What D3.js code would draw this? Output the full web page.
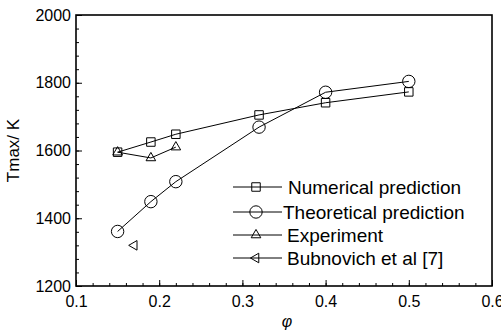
<!DOCTYPE html>
<html>
<head>
<meta charset="utf-8">
<title>Tmax vs phi</title>
<script src="https://d3js.org/d3.v7.min.js"></script>
<style>
  body { margin: 0; background: #fff; }
  text { font-family: "Liberation Sans", Arial, sans-serif; fill: #000; }
</style>
</head>
<body>
<script>
const width = 501, height = 331;
const marginLeft = 76, marginRight = 9, marginTop = 15, marginBottom = 45;

// data
const phiNum = [0.15, 0.19, 0.22, 0.32, 0.40, 0.50];
const tNum = [1595, 1625, 1648, 1705, 1741, 1773];
const phiTheo = [0.15, 0.19, 0.22, 0.32, 0.40, 0.50];
const tTheo = [1361, 1449, 1508, 1669, 1772, 1804];
const phiExp = [0.15, 0.19, 0.22];
const tExp = [1595, 1578, 1610];
const phiBub = [0.17];
const tBub = [1320];
const legendLabels = ["Numerical prediction", "Theoretical prediction", "Experiment", "Bubnovich et al [7]"];
const xTicks = [0.1, 0.2, 0.3, 0.4, 0.5, 0.6];
const yTicks = [1200, 1400, 1600, 1800, 2000];

const svg = d3.select("body").append("svg")
  .attr("width", width).attr("height", height);

const x = d3.scaleLinear().domain([0.1, 0.6]).range([marginLeft, width - marginRight]);
const y = d3.scaleLinear().domain([1200, 2000]).range([height - marginBottom, marginTop]);

// minor ticks
const xMinor = d3.range(0.1, 0.6001, 0.02).map(d => +d.toFixed(2));
const yMinor = d3.range(1200, 2001, 40);

svg.append("g")
  .attr("transform", `translate(0,${height - marginBottom})`)
  .call(d3.axisBottom(x).tickValues(xMinor).tickSize(-3).tickFormat(""))
  .call(g => g.select(".domain").remove());
svg.append("g")
  .attr("transform", `translate(${marginLeft},0)`)
  .call(d3.axisLeft(y).tickValues(yMinor).tickSize(-3).tickFormat(""))
  .call(g => g.select(".domain").remove());

// major ticks + labels
svg.append("g")
  .attr("transform", `translate(0,${height - marginBottom})`)
  .call(d3.axisBottom(x).tickValues(xTicks).tickSize(-6).tickPadding(10).tickFormat(d3.format(".1f")))
  .call(g => g.select(".domain").remove())
  .call(g => g.selectAll("text").attr("font-size", 16).attr("font-family", "Liberation Sans, Arial"));
svg.append("g")
  .attr("transform", `translate(${marginLeft},0)`)
  .call(d3.axisLeft(y).tickValues(yTicks).tickSize(-6).tickPadding(5).tickFormat(d3.format("d")))
  .call(g => g.select(".domain").remove())
  .call(g => g.selectAll("text").attr("font-size", 16).attr("font-family", "Liberation Sans, Arial"));

svg.selectAll(".tick line").attr("stroke", "#000");

// frame
svg.append("rect")
  .attr("x", marginLeft).attr("y", marginTop)
  .attr("width", width - marginLeft - marginRight)
  .attr("height", height - marginTop - marginBottom)
  .attr("fill", "none").attr("stroke", "#000").attr("stroke-width", 1.6);

// axis titles
svg.append("text")
  .attr("transform", `translate(19,${(marginTop + height - marginBottom) / 2}) rotate(-90)`)
  .attr("text-anchor", "middle").attr("font-size", 17)
  .text("Tmax/ K");
svg.append("text")
  .attr("x", (marginLeft + width - marginRight) / 2 + 3).attr("y", 327)
  .attr("text-anchor", "middle").attr("font-size", 16)
  .attr("font-style", "italic").attr("font-family", "DejaVu Serif, serif")
  .text("φ");

const line = d3.line().x(d => x(d[0])).y(d => y(d[1]));
const sq = d3.symbol().type(d3.symbolSquare).size(72);
const tri = d3.symbol().type(d3.symbolTriangle).size(40);

function marker(g, kind) {
  if (kind === 0) g.append("path").attr("d", sq());
  else if (kind === 1) g.append("circle").attr("r", 6.2);
  else if (kind === 2) g.append("path").attr("d", tri());
  else g.append("path").attr("d", tri()).attr("transform", "rotate(-90)");
  g.selectAll("*").attr("fill", "none").attr("stroke", "#000").attr("stroke-width", 1);
}

const series = [
  { xs: phiNum, ys: tNum, kind: 0, line: true },
  { xs: phiTheo, ys: tTheo, kind: 1, line: true },
  { xs: phiExp, ys: tExp, kind: 2, line: true },
  { xs: phiBub, ys: tBub, kind: 3, line: false }
];

series.forEach(s => {
  const pts = s.xs.map((v, i) => [v, s.ys[i]]);
  if (s.line) {
    svg.append("path").attr("d", line(pts))
      .attr("fill", "none").attr("stroke", "#000").attr("stroke-width", 1);
  }
  pts.forEach(p => {
    const g = svg.append("g").attr("transform", `translate(${x(p[0])},${y(p[1])})`);
    marker(g, s.kind);
  });
});

// legend
const legY = [187, 212, 235, 258];
const legTextX = [288, 283, 287, 287];
legendLabels.forEach((lab, i) => {
  svg.append("line")
    .attr("x1", 233).attr("x2", 282).attr("y1", legY[i]).attr("y2", legY[i])
    .attr("stroke", "#000").attr("stroke-width", 1);
  const g = svg.append("g").attr("transform", `translate(256,${legY[i]})`);
  marker(g, i);
  svg.append("text")
    .attr("x", legTextX[i]).attr("y", legY[i]).attr("dy", "0.36em")
    .attr("font-size", 19)
    .text(lab);
});
</script>
</body>
</html>
